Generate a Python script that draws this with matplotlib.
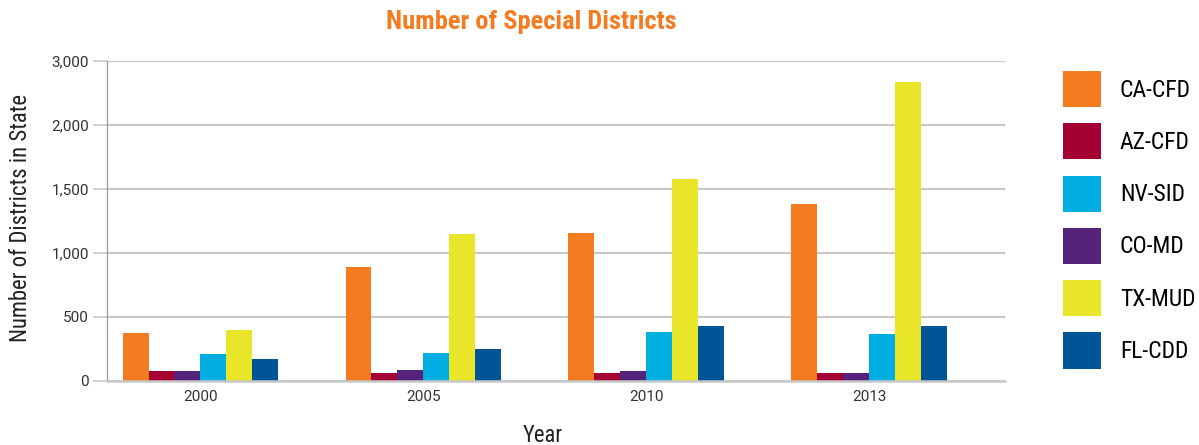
import matplotlib
matplotlib.use("Agg")
import matplotlib.pyplot as plt
import numpy as np
from matplotlib.patches import Patch
import logging
logging.getLogger("matplotlib.font_manager").setLevel(logging.ERROR)

years = ["2000", "2005", "2010", "2013"]
ca_cfd = [375, 888, 1154, 1380]
az_cfd = [78, 60, 62, 60]
nv_sid = [211, 216, 380, 365]
co_md = [78, 83, 76, 60]
tx_mud = [398, 1150, 1576, 2334]
fl_cdd = [172, 248, 427, 427]

y_ticks = [0, 500, 1000, 1500, 2000, 2500]
y_tick_labels = ["0", "500", "1,000", "1,500", "2,000", "3,000"]

colors = {
    "CA-CFD": "#F47B20",
    "AZ-CFD": "#A50034",
    "NV-SID": "#00AEE1",
    "CO-MD": "#55247A",
    "TX-MUD": "#E9E62A",
    "FL-CDD": "#005596",
}
series = {
    "CA-CFD": ca_cfd,
    "AZ-CFD": az_cfd,
    "NV-SID": nv_sid,
    "CO-MD": co_md,
    "TX-MUD": tx_mud,
    "FL-CDD": fl_cdd,
}
bar_order = ["CA-CFD", "AZ-CFD", "CO-MD", "NV-SID", "TX-MUD", "FL-CDD"]
legend_order = ["CA-CFD", "AZ-CFD", "NV-SID", "CO-MD", "TX-MUD", "FL-CDD"]

narrow = ["Roboto Condensed", "IBM Plex Sans Condensed", "DejaVu Sans"]
plt.rcParams["font.family"] = ["Roboto", "Liberation Sans", "DejaVu Sans"]

fig = plt.figure(figsize=(11.99, 4.45), dpi=100)
ax = fig.add_axes([0.0892, 0.1445, 0.7488, 0.7185])

x = np.arange(len(years))
w = 0.1163
n = len(bar_order)
for i, name in enumerate(bar_order):
    ax.bar(x + (i - (n - 1) / 2) * w, series[name], width=w,
           color=colors[name], zorder=3, linewidth=0)

ax.set_ylim(0, 2500)
ax.set_xlim(-0.419, 3.608)
ax.set_yticks(y_ticks)
ax.set_yticklabels(y_tick_labels, fontsize=11, color="#333333")
ax.set_xticks(x)
ax.set_xticklabels(years, fontsize=11, color="#333333")
ax.yaxis.grid(True, color="#c8c8c8", linewidth=1.5, zorder=0)
ax.tick_params(axis="y", length=10, color="#c8c8c8", width=1.2, pad=3)
ax.tick_params(axis="x", length=0, pad=7)

for s in ["top", "right"]:
    ax.spines[s].set_visible(False)
ax.spines["left"].set_color("#999999")
ax.spines["left"].set_linewidth(0.9)
ax.spines["bottom"].set_color("#c8c8c8")
ax.spines["bottom"].set_linewidth(1.8)
ax.spines["bottom"].set_zorder(4)

ax.set_ylabel("Number of Districts in State", fontsize=16.3, family=narrow,
              color="#222222")
ax.yaxis.set_label_coords(-0.084, 0.51)
ax.set_xlabel("Year", fontsize=16.3, family=narrow, color="#222222")
ax.xaxis.set_label_coords(0.4855, -0.135)

fig.text(0.443, 0.95, "Number of Special Districts", fontsize=19,
         family=narrow, fontweight="bold", color="#F47B20",
         ha="center", va="center")

handles = [Patch(facecolor=colors[k], edgecolor="none", label=k) for k in legend_order]
fig.legend(handles=handles, loc="upper left", bbox_to_anchor=(0.8866, 0.8404),
           frameon=False, prop={"family": narrow, "size": 17},
           handlelength=1.61, handleheight=1.969, labelspacing=0.69,
           handletextpad=0.8, borderaxespad=0, borderpad=0)

fig.savefig("out.png", dpi=100)
